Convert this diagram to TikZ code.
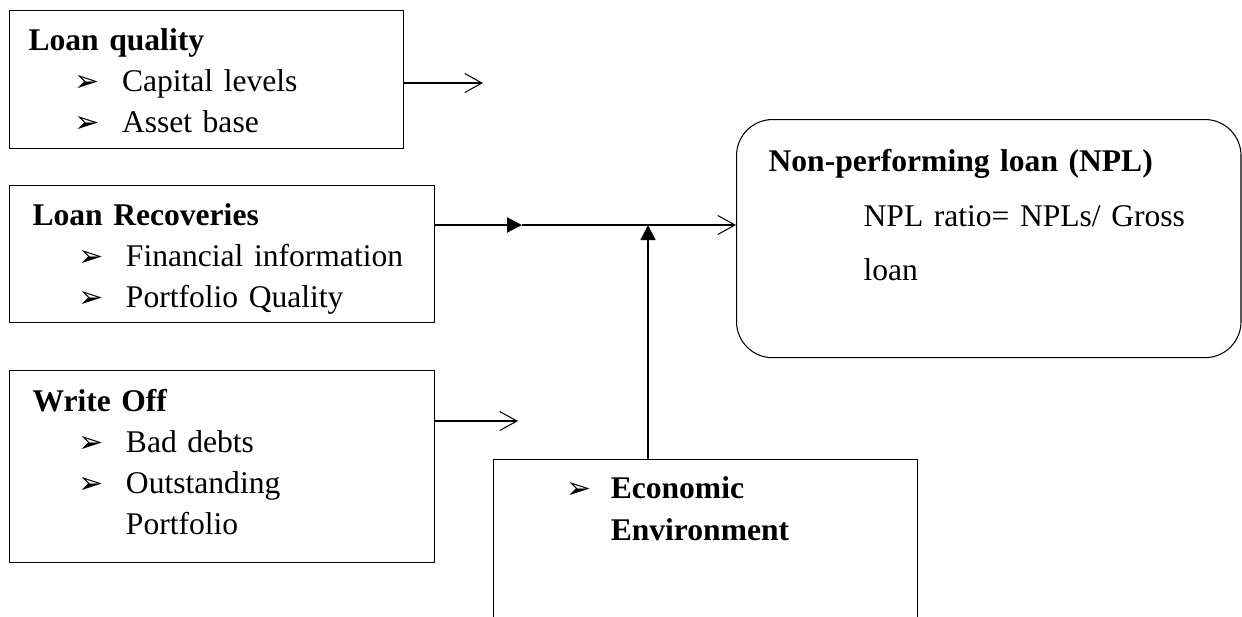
\documentclass[tikz,border=0pt]{standalone}
\usepackage{fontspec}
\setmainfont{Liberation Serif}
\newfontfamily\arrowfont{DejaVu Sans}
\usepackage{tikz}
\usetikzlibrary{positioning,arrows.meta}
\newcommand{\bul}{{\arrowfont\fontsize{11.5}{11.5}\selectfont ➢}}
\newcommand{\itm}[1]{\hspace*{17.6pt}\makebox[17.9pt][l]{\bul}#1}
\tikzstyle{blk}=[draw, line width=0.5pt, anchor=north west, align=left, inner ysep=0pt, inner xsep=8.7pt, text width=144.1pt, text height=15.2pt, font=\fontsize{12}{15.6}\selectfont]
\tikzstyle{nplbox}=[draw, line width=0.4pt, rounded corners=13.7pt, anchor=north west, align=left, inner ysep=0pt, inner xsep=12.2pt, text width=167.3pt, text height=19.8pt, text depth=70.7pt, font=\fontsize{12}{20.7}\selectfont]
\tikzstyle{open}=[-{Straight Barb[length=6.5pt,width=7.2pt]}, line width=0.4pt]

\begin{document}
\begin{tikzpicture}[x=0.38pt,y=-0.38pt,>={Triangle[length=5.7pt,width=5.7pt]}]
\useasboundingbox (0,0) rectangle (1242,616);
% the three factor boxes
\node[blk, inner xsep=7.2pt, text width=135.3pt, text depth=37.2pt] at (9,10) (lq) {\textbf{Loan quality}\\\itm{Capital levels}\\\itm{Asset base}};
\node[blk, text depth=36.9pt] at (9,185) (lr) {\textbf{Loan Recoveries}\\\itm{Financial information}\\\itm{Portfolio Quality}};
\node[blk, text height=15.6pt, text depth=57.4pt] at (9,370) (wo) {\textbf{Write Off}\\\itm{Bad debts}\\\itm{Outstanding}\\\hspace*{35.5pt}Portfolio};

\node[blk, inner xsep=27.4pt, text width=106.3pt, text height=14.8pt, text depth=47.1pt, font=\bfseries\fontsize{12}{16}\selectfont] at (493,459) (econ) {\makebox[17.1pt][l]{\bul}Economic\\\hspace*{17.1pt}Environment};

\node[nplbox] at (736,119) (npl) {\textbf{Non-performing loan (NPL)}\\\hspace*{36.1pt}NPL ratio= NPLs/ Gross\\\hspace*{36.1pt}loan};

\coordinate (c1) at (483,83);
\coordinate (j) at (522,225);
\coordinate (c3) at (518,421);
\coordinate (v) at (648,225);

\draw[open] (c1 -| lq.east) -- (c1);
\draw[->, line width=0.8pt] (j -| lr.east) -- (j);
\draw[open] (j) -- (j -| npl.west);
%\draw[->] (econ.north) -- (econ.north |- j);
\draw[->, line width=0.5pt] (v |- econ.north) -- (v);
\draw[open] (c3 -| wo.east) -- (c3);
\end{tikzpicture}
\end{document}
